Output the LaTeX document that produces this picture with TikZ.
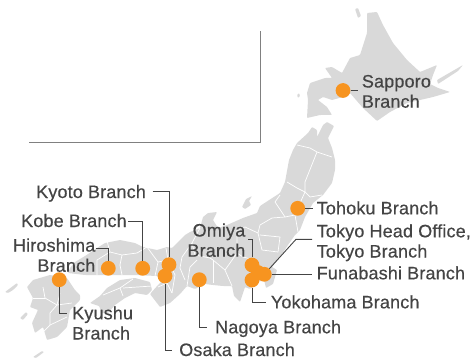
\documentclass[tikz,border=0pt]{standalone}
\usepackage{fontspec}
\setmainfont{Liberation Sans}
\definecolor{land}{HTML}{D9D9D9}
\definecolor{ink}{HTML}{444444}
\definecolor{dotc}{HTML}{F79420}
\definecolor{framec}{HTML}{808080}
\tikzset{
  landfill/.style={fill=land,rounded corners=0.8pt},
  border/.style={draw=white,line width=0.7pt,line join=round},
  branchdot/.style={circle,fill=dotc,minimum size=14.8pt,inner sep=0pt},
  conn/.style={draw=ink,line width=0.9pt},
  lbl/.style={text=ink,inner sep=0pt,font=\fontsize{18}{20.2}\selectfont\addfontfeature{FakeBold=0.45,LetterSpace=0.9}},
  lblw/.style={lbl,anchor=base west,align=left},
  lble/.style={lbl,anchor=base east,align=right},
}
\begin{document}
\begin{tikzpicture}[x=1pt,y=-1pt]
\useasboundingbox (0,0) rectangle (470,358);
% Hokkaido
\fill[landfill] (367,13)--(377,12)--(383,25)--(393,43)--(407,60)--(420,72)--(437,65)--(433,75)--(430,84)--(438,88)--(450,92)--(433,97)--(407,103)--(390,112)--(377,121)--(363,108)--(350,93)--(343,97)--(332,100)--(323,97)--(318,100)--(327,107)--(332,115)--(320,115)--(307,118)--(308,100)--(307,93)--(310,83)--(325,78)--(332,78)--(325,68)--(332,67)--(342,73)--(350,58)--(360,55)--(367,33)--cycle;
\fill[landfill] (437,80)--(463,65)--(458,71)--(438,84)--cycle;
\fill[landfill] (355,9)--(358,8)--(361,16)--(358,18)--cycle;
\fill[landfill] (297,95)--(299,93)--(300,96)--(298,98)--cycle;
% Honshu
\fill[landfill] (297,143)--(308,133)--(312,127)--(317,130)--(317,137)--(323,125)--(327,122)--(334,126)--(328,138)--(332,148)--(335,160)--(335,170)--(332,183)--(323,195)--(313,203)--(305,217)--(300,230)--(295,235)--(288,245)--(280,257)--(272,267)--(277,270)--(273,284)--(266,288)--(264,280)--(258,282)--(250,289)--(245,287)--(240,302)--(234,296)--(232,286)--(223,286)--(213,285)--(205,284)--(195,289)--(187,286)--(180,294)--(170,303)--(160,307)--(150,294)--(158,285)--(163,280)--(157,276)--(135,275)--(120,275)--(100,275)--(85,275)--(68,273)--(70,268)--(75,262)--(85,256)--(97,248)--(105,243)--(120,240)--(135,243)--(143,247)--(157,250)--(167,247)--(172,248)--(177,243)--(185,235)--(190,232)--(200,228)--(203,217)--(208,213)--(217,212)--(213,220)--(218,228)--(227,225)--(243,218)--(257,213)--(260,206)--(280,193)--(285,182)--(289,160)--(293,150)--cycle;
\fill[landfill] (242,207)--(246,199)--(252,196)--(249,201)--(251,205)--(245,209)--cycle;
% Shikoku
\fill[landfill] (90,303)--(100,296)--(107,288)--(120,280)--(135,278)--(150,282)--(152,290)--(147,295)--(135,293)--(125,298)--(115,305)--(108,313)--(102,313)--(99,306)--cycle;
% Kyushu
\fill[landfill] (50,275)--(67,278)--(75,290)--(80,295)--(80,300)--(70,310)--(67,327)--(57,337)--(47,340)--(43,327)--(35,333)--(32,323)--(38,310)--(30,307)--(33,298)--(27,287)--(33,280)--cycle;
\fill[landfill] (5,292)--(17,283)--(18,285)--(13,290)--(8,293)--cycle;
\fill[landfill] (20,318)--(26,312)--(28,314)--(23,320)--cycle;
\fill[landfill] (33,357)--(42,351)--(44,352)--(36,358)--cycle;
% prefecture borders
\draw[border] (297,145)--(310,148)--(317,152)--(332,157);
\draw[border] (317,152)--(313,162)--(305,182)--(305,192)--(310,197)--(322,195);
\draw[border] (287,182)--(297,188)--(305,192)--(300,203)--(295,215)--(285,217)--(275,202)--(280,195);
\draw[border] (285,217)--(272,218)--(260,225)--(258,233)--(245,227)--(237,230);
\draw[border] (295,215)--(298,232);
\draw[border] (260,235)--(280,237)--(278,252)--(262,250)--(258,233);
\draw[border] (237,230)--(237,253)--(243,257)--(255,260);
\draw[border] (237,253)--(230,263)--(225,270)--(232,286);
\draw[border] (225,270)--(213,260)--(210,258)--(195,255)--(192,243)--(200,228);
\draw[border] (213,260)--(213,283);
\draw[border] (197,260)--(190,267)--(187,286);
\draw[border] (97,275)--(97,260)--(110,252)--(122,255)--(120,265)--(122,275);
\draw[border] (110,252)--(107,241);
\draw[border] (122,255)--(137,253)--(147,247);
\draw[border] (147,247)--(158,262)--(155,276);
\draw[border] (158,262)--(168,260)--(166,248);
\draw[border] (168,260)--(175,275)--(172,293);
\draw[border] (182,257)--(180,268)--(185,280);
\draw[border] (182,257)--(192,243);
\draw[border] (158,287)--(167,283)--(172,293);
\draw[border] (103,295)--(120,288)--(133,279);
\draw[border] (120,288)--(123,296);
\draw[border] (123,288)--(152,286);
\draw[border] (43,287)--(45,298)--(57,305)--(72,303);
\draw[border] (60,293)--(57,305)--(50,313)--(50,325)--(43,332);
\draw[border] (50,325)--(67,317);
\draw[border] (33,298)--(45,298);
% frame
\coordinate (fa) at (29,142);
\coordinate (fb) at (260.8,142);
\coordinate (fc) at (260.8,31);
\draw[draw=framec,line width=1pt] (fa)--(fb)--(fc);
% dots
\node[branchdot] (dHiroshima) at (108.3,268.3) {};
\node[branchdot] (dKobe) at (142.7,268.3) {};
\node[branchdot] (dKyoto) at (169,264.7) {};
\node[branchdot] (dOsaka) at (165,276) {};
\node[branchdot] (dNagoya) at (199.3,279.7) {};
\node[branchdot] (dKyushu) at (59.3,279.7) {};
\node[branchdot] (dOmiya) at (252,265) {};
\node[branchdot] (dYokohama) at (252,280) {};
\node[branchdot] (dTokyo) at (258,272.5) {};
\node[branchdot] (dFunabashi) at (264.3,274.3) {};
\node[branchdot] (dTohoku) at (297.7,208.3) {};
\node[branchdot] (dSapporo) at (343,90.5) {};
% labels
\node[lblw] (tKyoto) at (36,198) {Kyoto Branch};
\node[lblw] (tKobe) at (21,227) {Kobe Branch};
\node[lble] (tHiroshima) at (95.5,271.7) {Hiroshima\\Branch};
\node[lblw] (tKyushu) at (72,339.5) {Kyushu\\Branch};
\node[lblw] (tOsaka) at (179,356) {Osaka Branch};
\node[lblw] (tNagoya) at (215,333.3) {Nagoya Branch};
\node[lble] (tOmiya) at (245.5,256.7) {Omiya\\Branch};
\node[lblw] (tTohoku) at (316.5,214.3) {Tohoku Branch};
\node[lblw] (tTokyo) at (316.5,257.5) {Tokyo Head Office,\\Tokyo Branch};
\node[lblw] (tFunabashi) at (316.5,279.3) {Funabashi Branch};
\node[lblw] (tYokohama) at (270.7,308.3) {Yokohama Branch};
\node[lblw] (tSapporo) at (361.7,107.7) {Sapporo\\Branch};
% connector free ends
\coordinate (cKyoto) at (152.7,191);
\coordinate (cKobe) at (128,221);
\coordinate (cHiroshima) at (95.7,248.7);
\coordinate (cKyushu) at (66.7,313.3);
\coordinate (cOsaka) at (171.7,350);
\coordinate (cNagoya) at (207.3,327.3);
\coordinate (cOmiya) at (248.3,239.3);
\coordinate (cYokohama) at (266,302.3);
\coordinate (cTohoku) at (312.7,208.3);
\coordinate (cTokyo) at (312,239.3);
\coordinate (bTokyo) at (296,239.3);
\coordinate (cFunabashi) at (312,274.3);
\coordinate (cSapporo) at (357.7,90.5);
\draw[conn] (cKyoto) -| (dKyoto);
\draw[conn] (cKobe) -| (dKobe);
\draw[conn] (cHiroshima) -| (dHiroshima);
\draw[conn] (dKyushu) |- (cKyushu);
\draw[conn] (dOsaka) |- (cOsaka);
\draw[conn] (dNagoya) |- (cNagoya);
\draw[conn] (cOmiya) -| (dOmiya);
\draw[conn] (dYokohama) |- (cYokohama);
\draw[conn] (dTohoku) -- (cTohoku);
\draw[conn] (cTokyo) -- (bTokyo) -- (dFunabashi);
\draw[conn] (dFunabashi) -- (cFunabashi);
\draw[conn] (dSapporo) -- (cSapporo);
\end{tikzpicture}
\end{document}
